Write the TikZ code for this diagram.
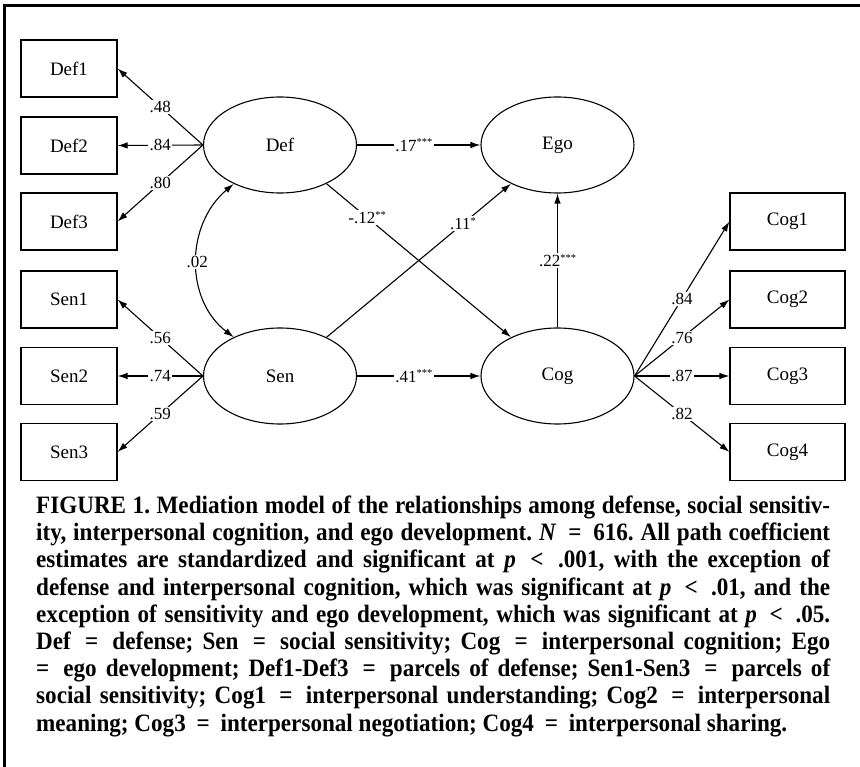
\documentclass[tikz,border=0pt]{standalone}
\usepackage{fontspec}
\setmainfont{Liberation Serif}
\newfontfamily\capfont[FakeStretch=0.925]{Liberation Serif}
\usetikzlibrary{shapes.geometric,arrows.meta}
\newcommand\sgn[1]{\raisebox{5.5pt}{\fontsize{10.5}{10.5}\selectfont #1}}
\newcommand\rl[1]{\hspace{0.2em}#1\hspace{0.2em}}
\begin{document}
\begin{tikzpicture}[x=1pt,y=-1pt,
  obs/.style={draw,line width=1.1pt,minimum width=96pt,minimum height=57pt,inner sep=0pt,font=\fontsize{19}{21}\selectfont},
  obsr/.style={obs,minimum width=115pt},
  lat/.style={draw,ellipse,line width=1.1pt,minimum width=153pt,minimum height=96pt,inner sep=0pt,font=\fontsize{19}{21}\selectfont},
  pth/.style={line width=1.1pt,-{Latex[length=10pt,width=6.5pt]}},
  cov/.style={line width=1.1pt,{Latex[length=10pt,width=6.5pt]}-{Latex[length=10pt,width=6.5pt]}},
  coef/.style={fill=white,inner sep=1.2pt,font=\fontsize{17}{19}\selectfont},
  frame/.style={line width=2.6pt}
]
\useasboundingbox (0,0) rectangle (860,767);
\fill[white] (0,0) rectangle (860,767);
\draw[frame] (4.7,767) -- (4.7,5.3) -- (860,5.3);

% indicators
\node[obs] (def1) at (69,68.5) {Def1};
\node[obs] (def2) at (69,145.5) {Def2};
\node[obs] (def3) at (69,221.5) {Def3};
\node[obs] (sen1) at (69,299.5) {Sen1};
\node[obs] (sen2) at (69,376) {Sen2};
\node[obs] (sen3) at (69,452) {Sen3};
\node[obsr] (cog1) at (787.5,221.5) {Cog1};
\node[obsr] (cog2) at (787.5,299.5) {Cog2};
\node[obsr] (cog3) at (787.5,376) {Cog3};
\node[obsr] (cog4) at (787.5,452) {Cog4};

% latent
\node[lat] (def) at (280,145) {Def};
\node[lat] (ego) at (557.5,145) {Ego};
\node[lat] (sen) at (280,376) {Sen};
\node[lat] (cog) at (557.5,376) {Cog};

% loadings
\draw[pth] (def.west) -- node[coef]{.48} (def1.east);
\draw[pth] (def.west) -- node[coef]{.84} (def2.east);
\draw[pth] (def.west) -- node[coef]{.80} (def3.east);
\draw[pth] (sen.west) -- node[coef]{.56} (sen1.east);
\draw[pth] (sen.west) -- node[coef]{.74} (sen2.east);
\draw[pth] (sen.west) -- node[coef]{.59} (sen3.east);
\draw[pth] (cog.east) -- node[coef]{.84} (cog1.west);
\draw[pth] (cog.east) -- node[coef]{.76} (cog2.west);
\draw[pth] (cog.east) -- node[coef]{.87} (cog3.west);
\draw[pth] (cog.east) -- node[coef]{.82} (cog4.west);

% structural paths
\draw[pth] (def) -- node[coef,pos=.46]{.17\sgn{***}} (ego);
\draw[pth] (def) -- node[coef,pos=.22]{-.12\sgn{**}} (cog);
\draw[pth] (sen) -- node[coef,pos=.74]{.11\sgn{*}} (ego);
\draw[pth] (cog) -- node[coef]{.22\sgn{***}} (ego);
\draw[pth] (sen) -- node[coef,pos=.46]{.41\sgn{***}} (cog);
\draw[cov] (sen.140) .. controls (185,300) and (185,225) .. node[coef,pos=.5]{.02} (def.220);

% caption
\node[anchor=base west,inner sep=0pt] (caption) at (36,513.4) {%
\begin{minipage}[t]{794pt}\capfont\bfseries\frenchspacing\fontsize{25}{27.2}\selectfont\setlength{\parindent}{0pt}%
\makebox[\linewidth][s]{FIGURE 1. Mediation model of the relationships among defense, social sensitiv-}\\
\makebox[\linewidth][s]{ity, interpersonal cognition, and ego development. \textit{N} \rl{=} 616. All path coefficient}\\
\makebox[\linewidth][s]{estimates are standardized and significant at \textit{p} \rl{<} .001, with the exception of}\\
\makebox[\linewidth][s]{defense and interpersonal cognition, which was significant at \textit{p} \rl{<} .01, and the}\\
\makebox[\linewidth][s]{exception of sensitivity and ego development, which was significant at \textit{p} \rl{<} .05.}\\
\makebox[\linewidth][s]{Def \rl{=} defense; Sen \rl{=} social sensitivity; Cog \rl{=} interpersonal cognition; Ego}\\
\makebox[\linewidth][s]{=\hspace{0.2em} ego development; Def1-Def3 \rl{=} parcels of defense; Sen1-Sen3 \rl{=} parcels of}\\
\makebox[\linewidth][s]{social sensitivity; Cog1 \rl{=} interpersonal understanding; Cog2 \rl{=} interpersonal}\\
meaning; Cog3 \rl{=} interpersonal negotiation; Cog4 \rl{=} interpersonal sharing.
\end{minipage}};
\end{tikzpicture}
\end{document}
